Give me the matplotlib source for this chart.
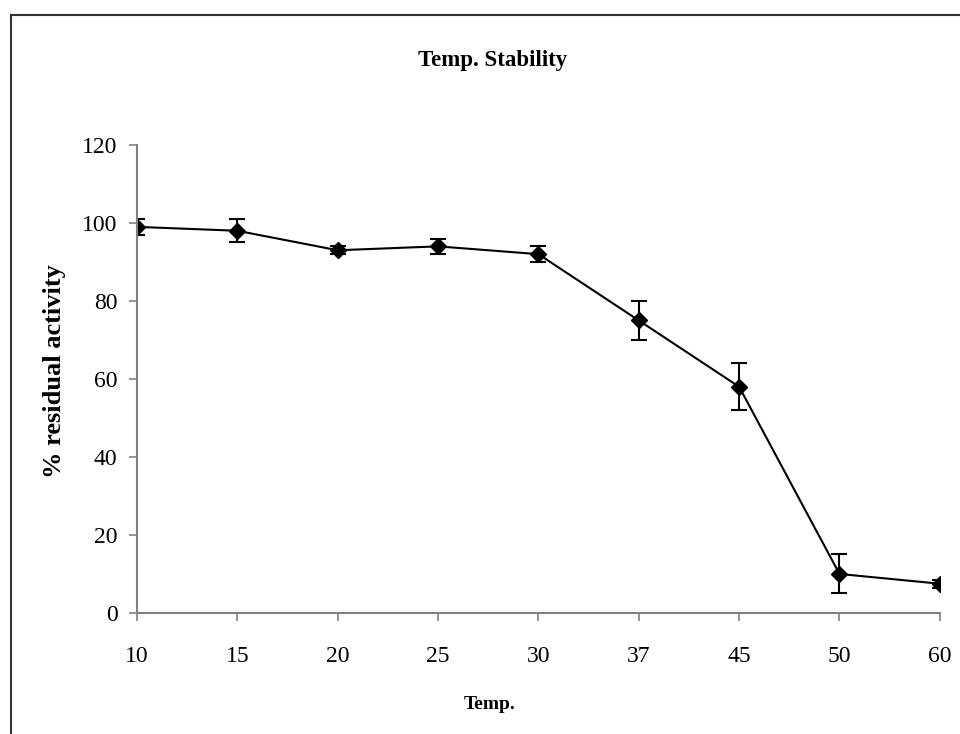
import matplotlib
matplotlib.use("Agg")
import matplotlib.pyplot as plt
from matplotlib.lines import Line2D

# data
temps = ["10", "15", "20", "25", "30", "37", "45", "50", "60"]
activity = [99, 98, 93, 94, 92, 75, 58, 10, 7.5]
errors = [2, 3, 1, 2, 2, 5, 6, 5, 1]
y_ticks = [0, 20, 40, 60, 80, 100, 120]

plt.rcParams['font.family'] = ['Liberation Serif', 'DejaVu Serif']

fig = plt.figure(figsize=(9.6, 7.34), dpi=100)
ax = fig.add_axes([0.1427, 0.1649, 0.979 - 0.1427, 0.8025 - 0.1649])

x = list(range(len(temps)))
ax.errorbar(x, activity, yerr=errors, color="black", lw=1.5,
            marker="D", markersize=8.5, capsize=6, capthick=1.5, elinewidth=1.5)

ax.set_xlim(0, len(temps) - 1)
ax.set_ylim(0, 120)
ax.set_xticks(x)
ax.set_xticklabels(temps)
ax.set_yticks(y_ticks)
ax.tick_params(axis="both", labelsize=17, color="#808080", length=6, width=1.2)
ax.tick_params(axis="x", pad=18)
ax.tick_params(axis="y", pad=8)

for side in ["top", "right"]:
    ax.spines[side].set_visible(False)
for side in ["left", "bottom"]:
    ax.spines[side].set_color("#808080")
    ax.spines[side].set_linewidth(1.5)

fig.text(0.513, 0.917, "Temp. Stability", ha="center", va="center",
         fontsize=16.5, fontweight="bold")
fig.text(0.51, 0.04, "Temp.", ha="center", va="center",
         fontsize=14, fontweight="bold")
fig.text(0.057, 0.494, "% residual activity", ha="center", va="center",
         rotation=90, fontsize=19, fontweight="bold")

# chart area border (only top and left visible in the reference)
fig.add_artist(Line2D([0.0115, 0.0115], [0, 0.98], transform=fig.transFigure,
                      color="#333333", lw=1.5))
fig.add_artist(Line2D([0.0115, 1.0], [0.98, 0.98], transform=fig.transFigure,
                      color="#333333", lw=1.5))

fig.savefig("out.png", dpi=100)
